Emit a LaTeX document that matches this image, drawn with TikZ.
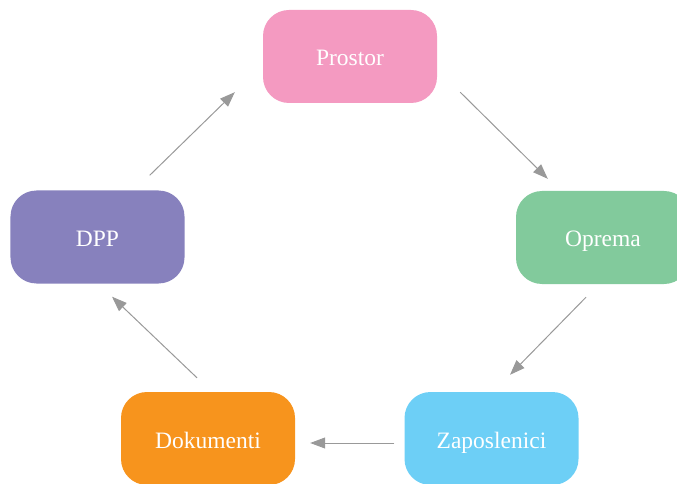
\documentclass[tikz,border=0pt]{standalone}
\usepackage{fontspec}
\setmainfont{Liberation Serif}
\usepackage{tikz}
\usetikzlibrary{calc}
\usetikzlibrary{arrows.meta}
\usetikzlibrary{positioning}

\definecolor{pinkbox}{HTML}{F49AC1}
\definecolor{greenbox}{HTML}{82CA9C}
\definecolor{purplebox}{HTML}{8781BD}
\definecolor{orangebox}{HTML}{F7941D}
\definecolor{bluebox}{HTML}{6DCFF6}
\definecolor{arrowgray}{HTML}{999999}

\tikzset{
    stagebox/.style={rectangle, rounded corners=26bp, draw=none, text=white,
        minimum width=174bp, minimum height=93bp, inner sep=0pt,
        text height=20bp, text depth=1bp,
        font=\fontsize{23.5bp}{27bp}\selectfont},
    cyclearrow/.style={draw=arrowgray, line width=1bp,
        -{Triangle[length=15bp, width=11bp]}}
}

\begin{document}
\begin{tikzpicture}[x=1bp, y=-1bp]
        \useasboundingbox (0,0) rectangle (677,484);
        \clip (0,0) rectangle (677,484);

        % Boxes
        \node[stagebox, fill=pinkbox] (prostor) at (350, 56.5) {Prostor};
        \node[stagebox, fill=greenbox] (oprema) at (603, 237.5) {Oprema};
        \node[stagebox, fill=bluebox] (zaposlenici) at (491.5, 438.5) {Zaposlenici};
        \node[stagebox, fill=orangebox] (dokumenti) at (208, 438.5) {Dokumenti};
        \node[stagebox, fill=purplebox] (dpp) at (97.5, 237) {DPP};

        % Cycle
        \draw[cyclearrow] ($(dpp.north east)+(-35,-15)$) -- ($(prostor.south west)+(-28,-11)$);
        \draw[cyclearrow] ($(prostor.south east)+(23,-11)$) -- ($(oprema.north west)+(32,-12)$);
        \draw[cyclearrow] ($(oprema.south)+(-17,13)$) -- ($(zaposlenici.north)+(18.5,-17)$);
        \draw[cyclearrow] ($(zaposlenici.west)+(-10,4.5)$) -- ($(dokumenti.east)+(15,4.5)$);
        \draw[cyclearrow] ($(dokumenti.north)+(-11,-14)$) -- ($(dpp.south)+(14.5,13)$);
\end{tikzpicture}
\end{document}
